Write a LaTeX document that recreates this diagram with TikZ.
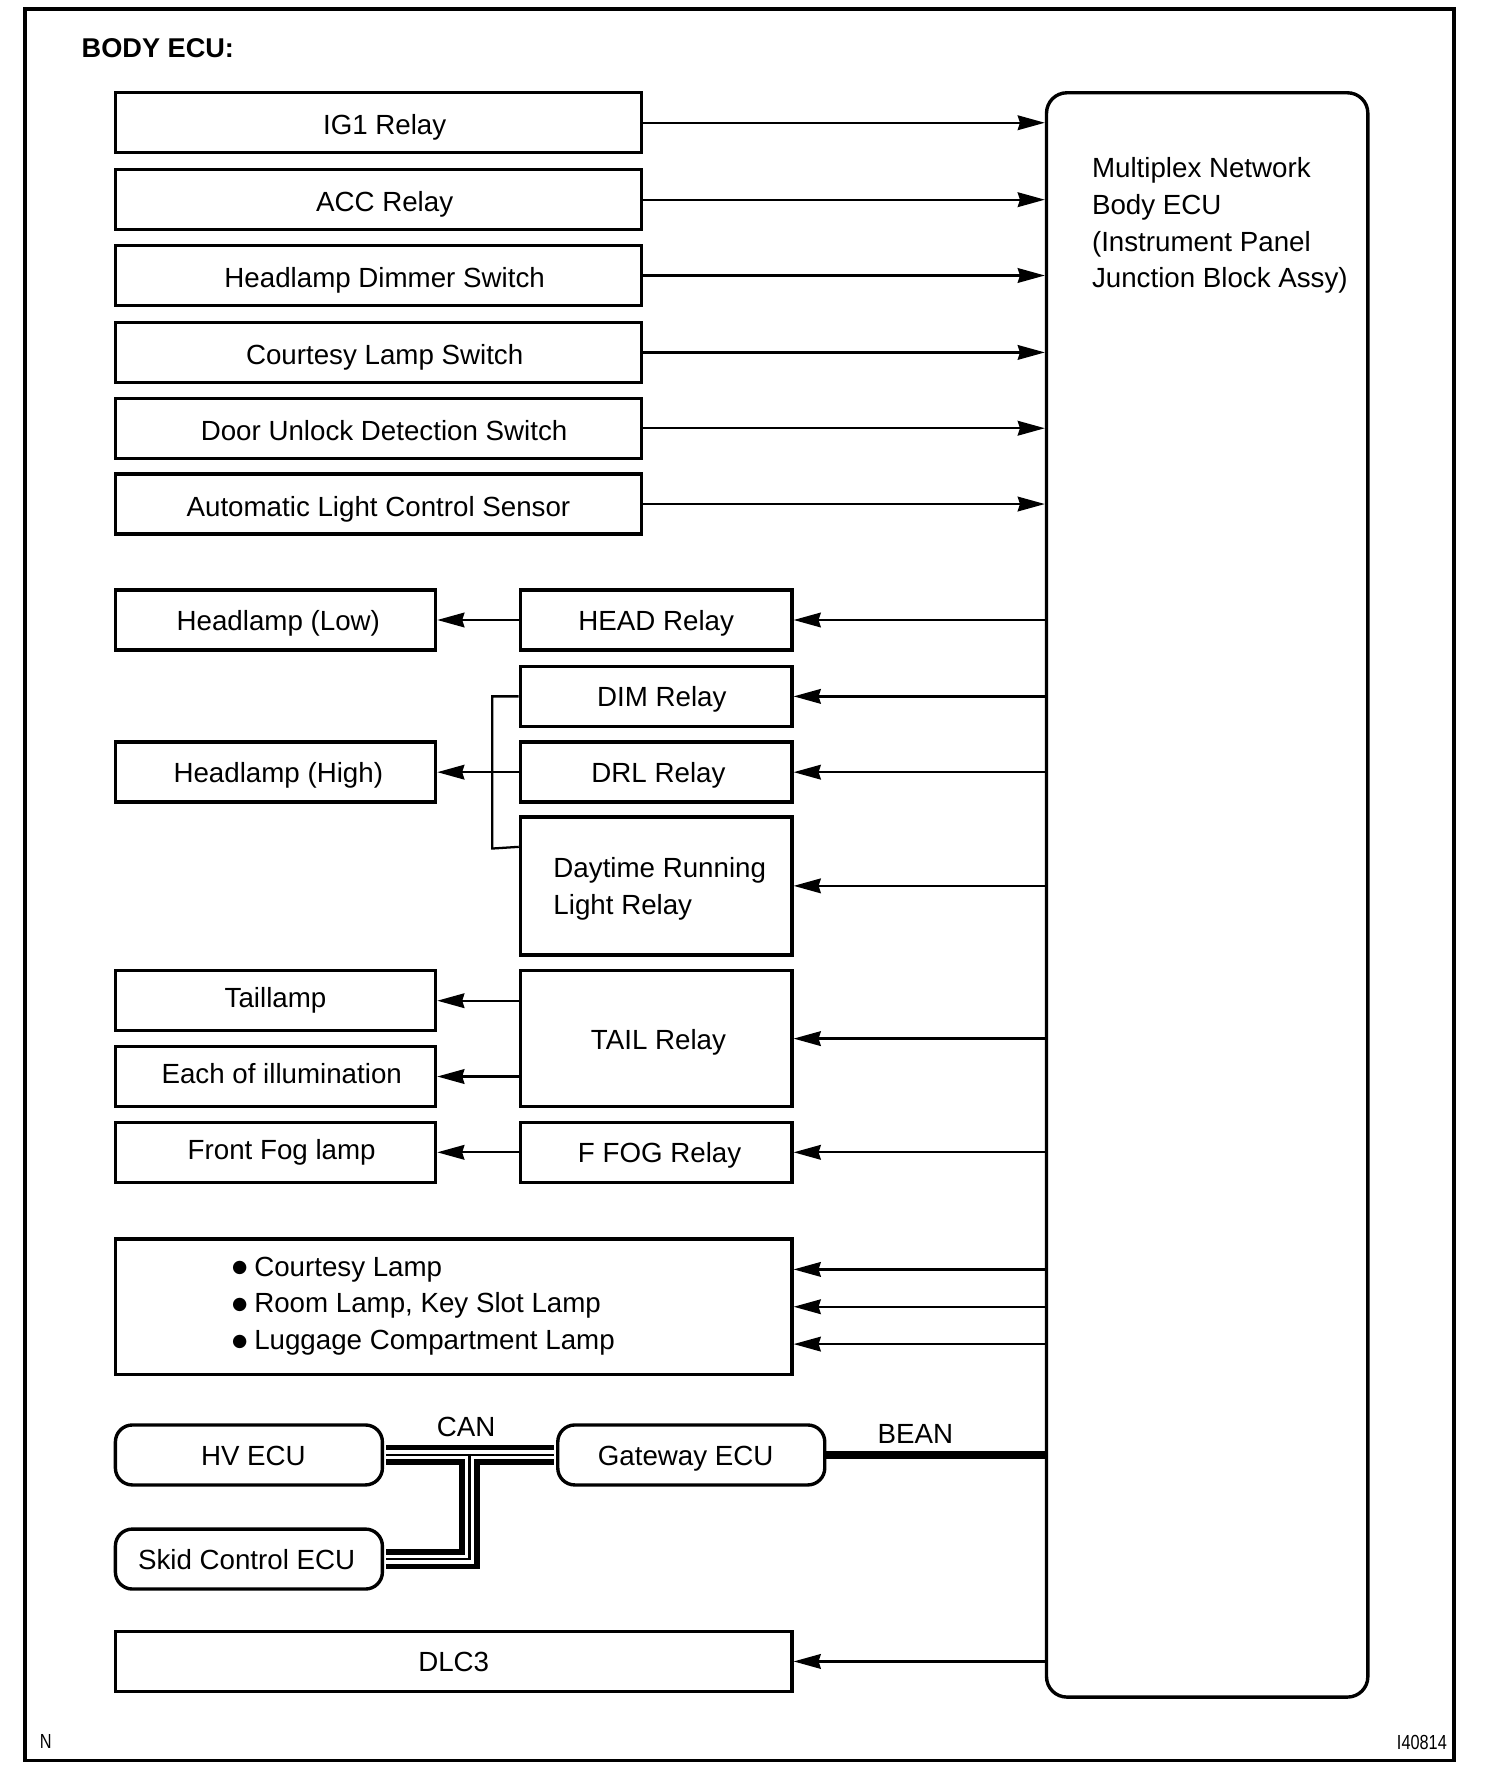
\documentclass[tikz,border=0pt]{standalone}
\usepackage{fontspec}
\usepackage{graphicx}
\setmainfont{Liberation Sans}
\newfontfamily\symfont{DejaVu Sans}
\newcommand\blt{\raisebox{3pt}{\symfont\fontsize{15.5}{15.5}\selectfont ●}\hspace{6pt}}
\usetikzlibrary{arrows.meta}
\begin{document}
\begin{tikzpicture}[x=1pt,y=-1pt,
  txt/.style={font=\fontsize{24.5}{32.4}\selectfont},
  box/.style={draw, line width=3pt, minimum height=53pt, inner sep=0pt, txt, text height=18.5pt, text depth=0pt},
  inbox/.style={box, minimum width=465pt, text height=21.5pt},
  hi/.style={text height=12pt},
  rbox/.style={box, rounded corners=15pt},
  lbl/.style={txt, inner sep=0pt},
  arr/.style={line width=2pt, -{Stealth[length=24pt,width=13pt,inset=2pt]}},
  wire/.style={line width=2pt}
]
\useasboundingbox (0,0) rectangle (1330,1568);
\draw[line width=3pt] (22,8) rectangle (1285,1556);
\node[lbl, font=\fontsize{24}{28}\selectfont\bfseries, anchor=west] (title) at (72,43) {BODY ECU:};

% main ECU
\node[draw, line width=3pt, rounded corners=18pt, minimum width=284pt, minimum height=1418pt] (ecu) at (1067,791) {};
\node[lbl, align=left, anchor=west] (ecut) at (965,199.5) {Multiplex Network\\Body ECU\\(Instrument Panel\\Junction Block Assy)};

% inputs
\node[inbox] (ig1)   at (334.5,108.5) {\hspace*{11pt}IG1 Relay};
\node[inbox] (acc)   at (334.5,176.5) {\hspace*{11pt}ACC Relay};
\node[inbox] (dims)  at (334.5,243.5) {\hspace*{11pt}Headlamp Dimmer Switch};
\node[inbox] (court) at (334.5,311.5) {\hspace*{11pt}Courtesy Lamp Switch};
\node[inbox] (door)  at (334.5,378.5) {\hspace*{10pt}Door Unlock Detection Switch};
\node[inbox] (auto)  at (334.5,445.5) {Automatic Light Control Sensor};
\foreach \n in {ig1,acc,dims,court,door,auto}
  \draw[arr] (\n.east) -- (\n.east -| ecu.west);

% lamps and relays
\node[box, minimum width=283pt] (low)  at (243.5,548) {\hspace*{5pt}Headlamp (Low)};
\node[box, minimum width=283pt] (high) at (243.5,682.5) {\hspace*{5pt}Headlamp (High)};
\node[box, minimum width=283pt, hi] (tl)   at (243.5,884.5) {Taillamp};
\node[box, minimum width=283pt, hi] (il)   at (243.5,951.5) {\hspace*{11pt}Each of illumination};
\node[box, minimum width=283pt, hi] (fog)  at (243.5,1018.5) {\hspace*{11pt}Front Fog lamp};

\node[box, minimum width=240pt] (head) at (580,548) {HEAD Relay};
\node[box, minimum width=240pt] (dim)  at (580,615.5) {\hspace*{10pt}DIM Relay};
\node[box, minimum width=240pt] (drl)  at (580,682.5) {\hspace*{4pt}DRL Relay};
\node[box, minimum width=240pt, minimum height=122pt] (drlr) at (580,783) {};
\node[lbl, align=left, anchor=west] (drlrt) at (489,785.5) {Daytime Running\\Light Relay};
\node[box, minimum width=240pt, minimum height=120pt] (tail) at (580,918) {\hspace*{4pt}TAIL Relay};
\node[box, minimum width=240pt] (ffog) at (580,1018.5) {\hspace*{6pt}F FOG Relay};

\foreach \n in {head,dim,drl,drlr,tail,ffog}
  \draw[arr] (ecu.west |- \n.east) -- (\n.east);

\draw[arr] (head.west) -- (low.east);
\draw[arr] (drl.west) -- (high.east);
\draw[arr] (tail.west |- tl.east) -- (tl.east);
\draw[arr] (tail.west |- il.east) -- (il.east);
\draw[arr] (ffog.west) -- (fog.east);
\draw[wire] (dim.west) -| (435,750) -- ([yshift=-28pt]drlr.north west);

% interior lamps
\node[box, minimum width=598pt, minimum height=120pt] (lamps) at (401,1155) {};
\node[lbl, align=left, anchor=west] (lampt) at (205,1154.5) {\blt Courtesy Lamp\\\blt Room Lamp, Key Slot Lamp\\\blt Luggage Compartment Lamp};
\foreach \s in {33,0,-33}
  \draw[arr] ([yshift=\s pt]lamps.east -| ecu.west) -- ([yshift=\s pt]lamps.east);

% networks
\node[rbox, minimum width=236pt] (hv)   at (220,1286) {\hspace*{8pt}HV ECU};
\node[rbox, minimum width=236pt] (gw)   at (611,1286) {Gateway ECU\hspace*{10pt}};
\node[rbox, minimum width=236pt] (skid) at (220,1378) {Skid Control ECU\hspace*{4pt}};
\coordinate (j) at (415,1286);
\foreach \w/\c in {18pt/black,8pt/white,2pt/black}{
  \draw[line width=\w, color=\c, shorten <=1.6pt, shorten >=1.6pt] (hv.east) -- (hv.east -| gw.west);
  \draw[line width=\w, color=\c, shorten >=1.6pt] (j) -- (j |- skid.east) -- (skid.east);
}
\node[lbl] (can) at (412,1261) {CAN};
\draw[line width=7pt] (gw.east) -- (gw.east -| ecu.west);
\node[lbl] (bean) at (809,1267) {BEAN};

\node[box, minimum width=598pt] (dlc) at (401,1468.5) {DLC3};
\draw[arr] (ecu.west |- dlc.east) -- (dlc.east);

\node[inner sep=0pt, anchor=west, font=\fontsize{18}{20}\selectfont] (nl) at (35,1539) {\scalebox{0.8}[1]{N}};
\node[inner sep=0pt, anchor=east, font=\fontsize{18}{20}\selectfont] (code) at (1279,1540) {\scalebox{0.8}[1]{I40814}};
\end{tikzpicture}
\end{document}
